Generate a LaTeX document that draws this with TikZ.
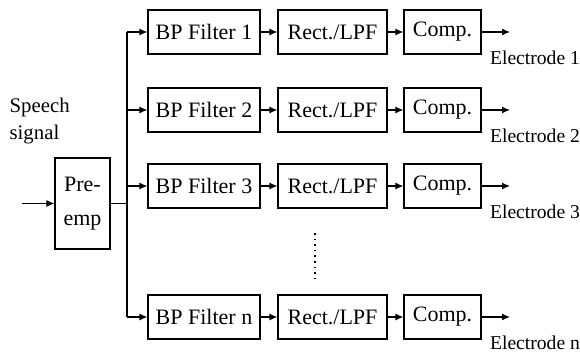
\documentclass[tikz,border=0pt]{standalone}
\usepackage{fontspec}
\setmainfont{Liberation Serif}
\usetikzlibrary{arrows.meta}

\tikzset{
  blk/.style={draw,line width=0.6pt,inner sep=0pt,minimum height=22pt,
    font=\fontsize{11}{13}\selectfont},
  lbl/.style={font=\fontsize{9.8}{12}\selectfont,inner sep=0pt},
}

\begin{document}
\begin{tikzpicture}[x=0.5pt,y=-0.5pt,line width=0.6pt,>={Latex[length=4pt,width=3.5pt]}]
  \useasboundingbox (0,0) rectangle (580,356);
  % input side
  \node[lbl,align=left,anchor=west,font=\fontsize{10.4}{13.5}\selectfont] (spk) at (9,121) {Speech\\signal};
  \node[blk,minimum width=27.5pt,minimum height=45.5pt,align=center,
        font=\fontsize{11}{17}\selectfont] (pre) at (82.5,203.5) {Pre-\\emp};
  \coordinate (in) at (22,203.5);
  \draw [->] (in) -- (pre);
  \coordinate (bt) at (127,32);
  \coordinate (bb) at (127,317);
  \draw (pre.east) -- (pre.east -| bt);
  \draw (bt) -- (bb);
  % one channel per row
  \foreach \i/\y in {1/32,2/110,3/186,n/317}{
    \node[blk,minimum width=56pt] (bp\i) at (204,\y) {BP Filter \i};
    \node[blk,minimum width=54.5pt] (lpf\i) at (332.5,\y) {Rect./LPF};
    \node[blk,minimum width=38.5pt] (cmp\i) at (442.5,\y) {Comp.};
    \coordinate (out\i) at (510,\y);
    \node[lbl] (el\i) at (535,\y+26) {Electrode \i};
    \draw [->] (bp\i -| bt) -- (bp\i);
    \draw [->] (bp\i) -- (lpf\i);
    \draw [->] (lpf\i) -- (cmp\i);
    \draw [->] (cmp\i) -- (out\i);
  }
  \draw [dotted,line width=0.8pt] (315,233) -- (315,278);
\end{tikzpicture}
\end{document}
